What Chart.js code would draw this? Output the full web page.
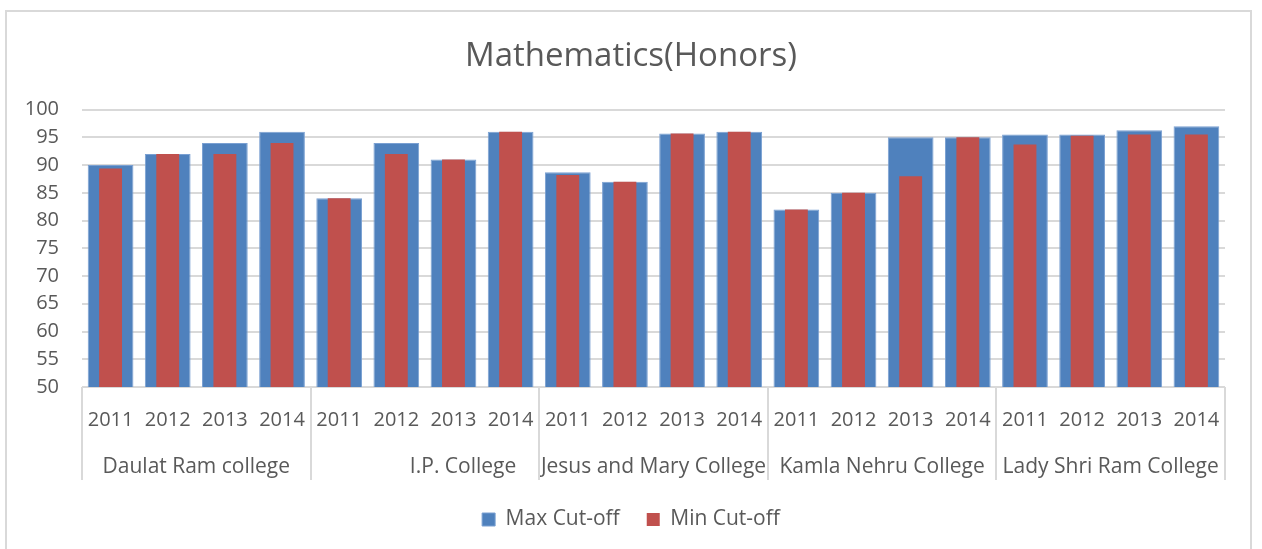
<!DOCTYPE html>
<html>
<head>
<meta charset="utf-8">
<script src="https://cdn.jsdelivr.net/npm/chart.js@4"></script>
<style>
  html, body { margin: 0; padding: 0; background: #fff; }
  #wrap { position: relative; width: 1262px; height: 549px; overflow: hidden; }
  #frame { position: absolute; left: 5px; top: 10px; width: 1247px; height: 600px; border: 2px solid #d9d9d9; box-sizing: border-box; }
  canvas { position: absolute; left: 0; top: 0; }
</style>
</head>
<body>
<div id="wrap">
  <div id="frame"></div>
  <canvas id="c" width="1262" height="549"></canvas>
</div>
<script>
const years = ['2011','2012','2013','2014','2011','2012','2013','2014','2011','2012','2013','2014','2011','2012','2013','2014','2011','2012','2013','2014'];
const colleges = ['Daulat Ram college', '              I.P. College', 'Jesus and Mary College', 'Kamla Nehru College', 'Lady Shri Ram College'];
const maxCutoff = [90, 92, 94, 96, 84, 94, 91, 96, 88.7, 87, 95.7, 96, 82, 85, 95, 95, 95.5, 95.5, 96.3, 97];
const minCutoff = [89.4, 92, 92, 94, 84, 92, 91, 96, 88.2, 87, 95.7, 96, 82, 85, 88, 95, 93.7, 95.3, 95.5, 95.5];
const yTicks = [50, 55, 60, 65, 70, 75, 80, 85, 90, 95, 100];

const FONT = "'Open Sans', 'Noto Sans', sans-serif";
const TXT = '#595959';
const GRID = '#d9d9d9';

const separators = {
  id: 'separators',
  afterDraw(chart) {
    const xs = chart.scales.x, x2 = chart.scales.x2;
    const ctx = chart.ctx;
    const half = (xs.getPixelForValue(1) - xs.getPixelForValue(0)) / 2;
    ctx.save();
    ctx.strokeStyle = GRID;
    ctx.lineWidth = 2;
    for (let g = 0; g <= colleges.length; g++) {
      const idx = g * 4;
      const px = idx < years.length ? xs.getPixelForValue(idx) - half : xs.getPixelForValue(years.length - 1) + half;
      const x = Math.round(px);
      ctx.beginPath();
      ctx.moveTo(x, chart.chartArea.bottom);
      ctx.lineTo(x, x2.top + 39);
      ctx.stroke();
    }
    ctx.restore();
  }
};

new Chart(document.getElementById('c'), {
  type: 'bar',
  data: {
    labels: years,
    datasets: [
      { label: 'Max Cut-off', data: maxCutoff, backgroundColor: '#4f81bd', borderColor: '#7aa0d2', borderWidth: 1,
        grouped: false, barPercentage: 0.8, categoryPercentage: 1, order: 1 },
      { label: 'Min Cut-off', data: minCutoff, backgroundColor: '#c0504d', borderWidth: 0,
        grouped: false, barPercentage: 0.4, categoryPercentage: 1, order: 0 }
    ]
  },
  options: {
    responsive: false,
    animation: false,
    events: [],
    layout: { padding: { left: 0, right: 0, top: 0, bottom: 9 } },
    plugins: {
      title: { display: true, text: 'Mathematics(Honors)', color: TXT,
        font: { family: FONT, size: 33, weight: 'normal' }, padding: { top: 37, bottom: 33 } },
      legend: { position: 'bottom',
        labels: { color: TXT, font: { family: FONT, size: 21 }, boxWidth: 13, boxHeight: 13, padding: 27,
          sort: (a, b) => a.datasetIndex - b.datasetIndex } },
      tooltip: { enabled: false }
    },
    scales: {
      y: {
        min: 50, max: 100,
        afterBuildTicks: (s) => { s.ticks = yTicks.map(v => ({ value: v })); },
        afterFit: (s) => { s.width = 82; },
        grid: { color: GRID, lineWidth: 2, drawTicks: false },
        border: { display: false },
        ticks: { color: TXT, font: { family: FONT, size: 20 }, padding: 23 }
      },
      yRight: {
        type: 'linear',
        position: 'right',
        afterFit: (s) => { s.width = 37; },
        grid: { display: false, drawTicks: false },
        border: { display: false },
        ticks: { display: false }
      },
      x: {
        weight: 0,
        afterFit: (s) => { s.height = 54; },
        grid: { display: false, drawTicks: false },
        border: { display: false },
        ticks: { color: TXT, font: { family: FONT, size: 20 }, padding: 21, maxRotation: 0, autoSkip: false }
      },
      x2: {
        type: 'category',
        labels: colleges,
        position: 'bottom',
        offset: true,
        weight: 1,
        afterFit: (s) => { s.height = 41; },
        grid: { display: false, drawTicks: false },
        border: { display: false },
        ticks: { color: TXT, font: { family: FONT, size: 21 }, padding: 13, maxRotation: 0, autoSkip: false }
      }
    }
  },
  plugins: [separators]
});
</script>
</body>
</html>
